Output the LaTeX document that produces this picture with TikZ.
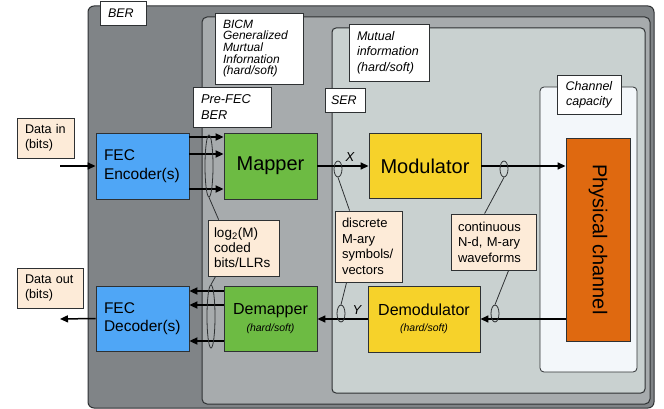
\documentclass[tikz,border=0pt]{standalone}
\usepackage{fontspec}
\setmainfont{Liberation Sans}
\usetikzlibrary{arrows.meta,shapes.geometric}
\definecolor{outerG}{HTML}{808487}
\definecolor{midG}{HTML}{A7ABAD}
\definecolor{innG}{HTML}{C9D1D0}
\definecolor{capF}{HTML}{F3F7FA}
\definecolor{encB}{HTML}{4FA6F6}
\definecolor{mapG}{HTML}{6DBB43}
\definecolor{modY}{HTML}{F6D22A}
\definecolor{phyO}{HTML}{DF6910}
\definecolor{peach}{HTML}{FDEBD8}
\definecolor{edge}{HTML}{2E3133}
\tikzset{
 container/.style={draw=edge, line width=1pt, inner sep=0pt},
 tag/.style={draw=edge, fill=white, line width=0.8pt, align=left, inner xsep=8pt, inner ysep=0pt,
   font=\fontsize{12.5}{15.5}\selectfont\itshape},
 block/.style={draw=edge, line width=0.9pt, inner sep=0pt},
 note/.style={draw=edge, fill=peach, line width=0.8pt, align=left, inner xsep=7pt, inner ysep=0pt,
   font=\fontsize{13}{15.5}\selectfont},
 ell/.style={ellipse, draw=edge, line width=0.8pt, inner sep=0pt},
 arr/.style={line width=1.5pt, -{Triangle[length=8pt,width=7pt]}},
 barr/.style={line width=2pt, -{Triangle[length=8pt,width=7pt]}},
 lnk/.style={line width=0.8pt, draw=edge},
 sub/.style={font=\fontsize{10.5}{12}\selectfont\itshape}
}
\begin{document}
\begin{tikzpicture}[x=1pt,y=-1pt]
\useasboundingbox (0,0) rectangle (664,409);
% containers
\node[container, fill=outerG, minimum width=566pt, minimum height=402pt, rounded corners=6pt] (berbox) at (371,207) {};
\node[container, fill=midG, minimum width=448pt, minimum height=387pt, rounded corners=5pt] (bicmbox) at (426,210.5) {};
\node[container, fill=innG, minimum width=313pt, minimum height=365pt, rounded corners=4pt] (mibox) at (488.5,210.5) {};
\node[container, fill=capF, line width=0.8pt, minimum width=97pt, minimum height=285pt, rounded corners=4pt] (capbox) at (588.5,229.5) {};
% tags
\node[tag, text width=30pt, minimum height=24pt] (tber) at (123,13) {BER};
\node[tag, text width=72pt, minimum height=71pt, font=\fontsize{12}{11.7}\selectfont\itshape] (tbicm) at (259,48.5) {BICM\\Generalized\\Murtual\\Infornation\\(hard/soft)};
\node[tag, text width=62pt, minimum height=40pt, font=\fontsize{12.8}{16.5}\selectfont\itshape] (tpre) at (232,107) {Pre-FEC\\BER};
\node[tag, text width=64pt, minimum height=57pt] (tmi) at (389,52.5) {Mutual\\information\\(hard/soft)};
\node[tag, text width=28pt, minimum height=24pt, inner xsep=6pt] (tser) at (345,100) {SER};
\node[tag, text width=54pt, minimum height=39pt, inner xsep=5pt, align=center, font=\fontsize{12.5}{15}\selectfont\itshape] (tcap) at (589,94.5) {Channel\\capacity};
% blocks
\node[block, fill=encB, minimum width=93pt, minimum height=66pt, text width=77pt, inner xsep=8pt, align=left, font=\fontsize{15.5}{18.5}\selectfont] (enc) at (142.5,166) {FEC\\Encoder(s)};
\node[block, fill=mapG, minimum width=93pt, minimum height=66pt, font=\fontsize{20}{22}\selectfont] (map) at (270.5,166) {Mapper};
\node[block, fill=modY, minimum width=112pt, minimum height=65pt, font=\fontsize{20}{22}\selectfont] (mod) at (425,166) {Modulator};
\node[block, fill=phyO, minimum width=203pt, minimum height=64pt, rotate=-90, font=\fontsize{20}{22}\selectfont] (phys) at (598,239.5) {Physical channel};
\node[block, fill=encB, minimum width=93pt, minimum height=65pt, text width=77pt, inner xsep=8pt, align=left, font=\fontsize{15.5}{18.5}\selectfont] (dec) at (142.5,318.5) {FEC\\Decoder(s)};
\node[block, fill=mapG, minimum width=93pt, minimum height=65pt, align=center, font=\fontsize{16}{17}\selectfont] (demap) at (270.5,318.5) {Demapper\\{\fontsize{10.5}{12}\selectfont\itshape (hard/soft)}};
\node[block, fill=modY, minimum width=112pt, minimum height=66pt, align=center, font=\fontsize{16}{16.5}\selectfont] (demod) at (424,319) {Demodulator\\{\fontsize{10.5}{12}\selectfont\itshape (hard/soft)}};
% data in/out
\node[note, text width=41pt, minimum height=40pt, inner xsep=8pt, font=\fontsize{12.6}{15}\selectfont] (din) at (45.5,138) {Data in\\(bits)};
\node[note, text width=50pt, minimum height=40pt, inner xsep=8pt, font=\fontsize{12.6}{15}\selectfont] (dout) at (50,288) {Data out\\(bits)};
\coordinate (inS) at (60,166);
\coordinate (outE) at (60,319);
\draw[arr] (inS) -- (enc.west);
\draw[arr] (dec.west) -- (outE);
% encoder -> mapper
\draw[barr] ([yshift=29pt]enc.east) -- ([yshift=29pt]map.west);
\draw[barr] ([yshift=12pt]enc.east) -- ([yshift=12pt]map.west);
\draw[barr] ([yshift=-23pt]enc.east) -- ([yshift=-23pt]map.west);
% demapper -> decoder
\draw[barr] ([yshift=27.5pt]demap.west) -- ([yshift=27.5pt]dec.east);
\draw[barr] ([yshift=13.5pt]demap.west) -- ([yshift=13.5pt]dec.east);
\draw[barr] ([yshift=-22.5pt]demap.west) -- ([yshift=-22.5pt]dec.east);
% main chain
\draw[arr] (map.east) -- (mod.west);
\draw[arr] (mod.east) -- (mod.east -| phys.south);
\draw[arr] (phys.south |- demod.east) -- (demod.east);
\draw[arr] (demod.west) -- (demod.west -| demap.east);
\node[font=\fontsize{13}{13}\selectfont\itshape] (xl) at (350,157) {X};
\node[font=\fontsize{13}{13}\selectfont\itshape] (yl) at (357,310) {Y};
% notes
\node[note, text width=59pt, minimum height=56pt, inner xsep=6pt, font=\fontsize{13.5}{15}\selectfont] (nlog) at (243.5,248) {log\textsubscript{2}(M)\\coded\\bits/LLRs};
\node[note, text width=53pt, minimum height=71pt] (ndisc) at (368.5,246.5) {discrete\\M-ary\\symbols/\\vectors};
\node[note, text width=71pt, minimum height=56pt] (ncont) at (493.5,242) {continuous\\N-d, M-ary\\waveforms};
% ellipses
\node[ell, minimum width=8pt, minimum height=62pt] (e1) at (209,166) {};
\node[ell, minimum width=8pt, minimum height=63pt] (e2) at (211,316.5) {};
\node[ell, minimum width=8pt, minimum height=16pt] (e3) at (338,169) {};
\node[ell, minimum width=8pt, minimum height=16pt] (e4) at (504,169) {};
\node[ell, minimum width=8pt, minimum height=17pt] (e5) at (495,313.5) {};
\node[ell, minimum width=8pt, minimum height=17pt] (e6) at (341,313.5) {};
% links
\draw[lnk] (e1.south) -- ([xshift=11pt]nlog.north west);
\draw[lnk] ([xshift=8pt]nlog.south west) -- (e2.north);
\draw[lnk] (e3.south) -- ([xshift=15pt]ndisc.north west);
\draw[lnk] ([xshift=12pt]ndisc.south west) -- (e6.north);
\draw[lnk] (e4.south) -- ([xshift=34pt]ncont.north west);
\draw[lnk] ([xshift=58pt]ncont.south west) -- (e5.north);
\end{tikzpicture}
\end{document}
